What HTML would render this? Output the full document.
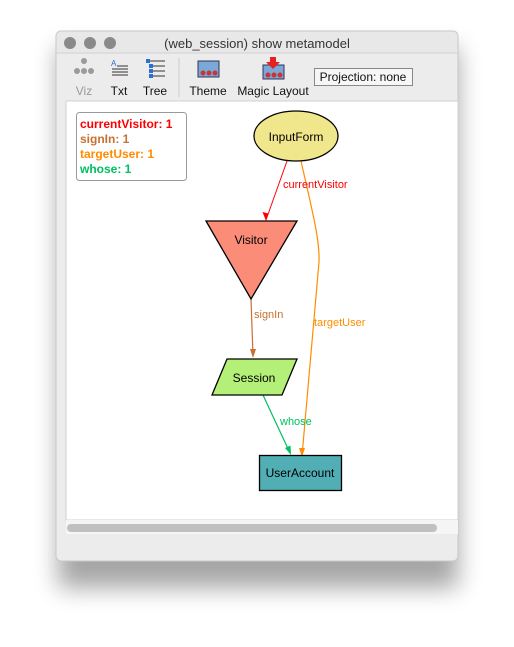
<!DOCTYPE html>
<html><head><style>
body{margin:0;background:#fff;width:514px;height:642px;overflow:hidden;font-family:"Liberation Sans",sans-serif;}
</style></head><body>
<svg width="514" height="642" xmlns="http://www.w3.org/2000/svg" font-family="Liberation Sans, sans-serif">
<defs>
<filter id="sh" x="-20%" y="-20%" width="140%" height="140%"><feGaussianBlur stdDeviation="12"/></filter>
</defs>
<rect x="58" y="48" width="400" height="540" fill="#000" opacity="0.35" filter="url(#sh)"/>
<rect x="56" y="31" width="402" height="530" rx="5" fill="#ececec" stroke="#c8c8c8"/>
<rect x="56.5" y="31.5" width="401" height="21" rx="5" fill="#e8e8e8"/>
<line x1="56" y1="53" x2="458" y2="53" stroke="#d0d0d0"/>
<circle cx="70" cy="43" r="6" fill="#8a8a8a"/><circle cx="90" cy="43" r="6" fill="#8a8a8a"/><circle cx="110" cy="43" r="6" fill="#8a8a8a"/>
<text x="257" y="48" font-size="13" fill="#333" text-anchor="middle">(web_session) show metamodel</text>
<!-- toolbar icons -->
<g fill="#9a9a9a"><circle cx="84" cy="61" r="3"/><circle cx="77" cy="71" r="3"/><circle cx="84" cy="71" r="3"/><circle cx="91" cy="71" r="3"/></g>
<g stroke="#333"><line x1="117" y1="66" x2="128" y2="66"/><line x1="112" y1="69" x2="128" y2="69"/><line x1="112" y1="72" x2="128" y2="72"/><line x1="112" y1="75" x2="128" y2="75"/></g>
<text x="111" y="66" font-size="8" fill="#2a6fd6">A</text>
<g stroke="#333"><line x1="150" y1="61" x2="165" y2="61"/><line x1="153" y1="66" x2="165" y2="66"/><line x1="153" y1="71" x2="165" y2="71"/><line x1="153" y1="76" x2="165" y2="76"/></g>
<g fill="#2a6fd6"><rect x="146" y="59" width="4" height="4"/><rect x="149" y="64" width="4" height="4"/><rect x="149" y="69" width="4" height="4"/><rect x="149" y="74" width="4" height="4"/></g>
<line x1="179" y1="58" x2="179" y2="97" stroke="#ccc"/>
<rect x="198" y="61" width="21" height="16" fill="#7aa8d8" stroke="#335"/>
<g fill="#c33"><circle cx="203" cy="73" r="2.5"/><circle cx="209" cy="73" r="2.5"/><circle cx="215" cy="73" r="2.5"/></g>
<rect x="263" y="65" width="21" height="14" fill="#7aa8d8" stroke="#335"/>
<g fill="#c33"><circle cx="268" cy="75" r="2.5"/><circle cx="274" cy="75" r="2.5"/><circle cx="280" cy="75" r="2.5"/></g>
<path d="M270 57h6v5h4l-7 7-7-7h4z" fill="#e82020"/>
<g font-size="12" fill="#111" text-anchor="middle">
<text x="84" y="95" fill="#999">Viz</text><text x="119" y="95">Txt</text><text x="155" y="95">Tree</text><text x="208" y="95">Theme</text><text x="273" y="95">Magic Layout</text></g>
<rect x="314.5" y="68.5" width="98" height="17" fill="#f6f6f6" stroke="#888"/>
<text x="363" y="81" font-size="12" fill="#111" text-anchor="middle">Projection: none</text>
<!-- canvas -->
<rect x="66" y="101" width="392" height="419" fill="#fff" stroke="#d0d0d0"/>
<rect x="66" y="520" width="392" height="14" fill="#f5f5f5"/>
<rect x="67" y="524" width="370" height="8" rx="4" fill="#c0c0c0"/>
<!-- legend -->
<rect x="76.5" y="112.5" width="110" height="68" rx="3" fill="#fff" stroke="#999"/>
<g font-size="12" font-weight="bold">
<text x="80" y="128" fill="#ff0000">currentVisitor: 1</text>
<text x="80" y="143" fill="#c87030">signIn: 1</text>
<text x="80" y="158" fill="#ff8c00">targetUser: 1</text>
<text x="80" y="173" fill="#00c060">whose: 1</text></g>
<!-- edges -->
<path d="M287 161 L266 220" stroke="#ff0000" fill="none"/>
<path d="M266 221 l-3.5 -9 l6 1.5z" fill="#ff0000"/>
<path d="M301 161 C312 210 320 240 319 262 L302 456" stroke="#ff8c00" fill="none" stroke-width="1.2"/>
<path d="M302 457 l-3 -9 l6 0z" fill="#ff8c00"/>
<path d="M251 299 L253 356" stroke="#c87030" fill="none" stroke-width="1.2"/>
<path d="M253 358 l-3 -9 l6 0z" fill="#c87030"/>
<path d="M263 395 L290 453" stroke="#00c060" fill="none" stroke-width="1.2"/>
<path d="M291 455 l-6 -7 l5.5 -2.5z" fill="#00c060"/>
<g font-size="11">
<text x="283" y="188" fill="#ff0000">currentVisitor</text>
<text x="254" y="318" fill="#c87030">signIn</text>
<text x="314" y="326" fill="#ff8c00">targetUser</text>
<text x="280" y="425" fill="#00c060">whose</text></g>
<!-- nodes -->
<ellipse cx="296" cy="136" rx="42" ry="25" fill="#f0e68c" stroke="#000" stroke-width="1.3"/>
<text x="296" y="141" font-size="12" text-anchor="middle">InputForm</text>
<path d="M206 221 L297 221 L251 299z" fill="#fa8c78" stroke="#000" stroke-width="1.3"/>
<text x="251" y="244" font-size="12" text-anchor="middle">Visitor</text>
<path d="M227 359 L297 359 L282 395 L212 395z" fill="#b4f078" stroke="#000" stroke-width="1.3"/>
<text x="254" y="382" font-size="12" text-anchor="middle">Session</text>
<rect x="259.5" y="455.5" width="82" height="35" fill="#50aeb4" stroke="#000" stroke-width="1.3"/>
<text x="300" y="477" font-size="12" text-anchor="middle">UserAccount</text>
</svg>
</body></html>
